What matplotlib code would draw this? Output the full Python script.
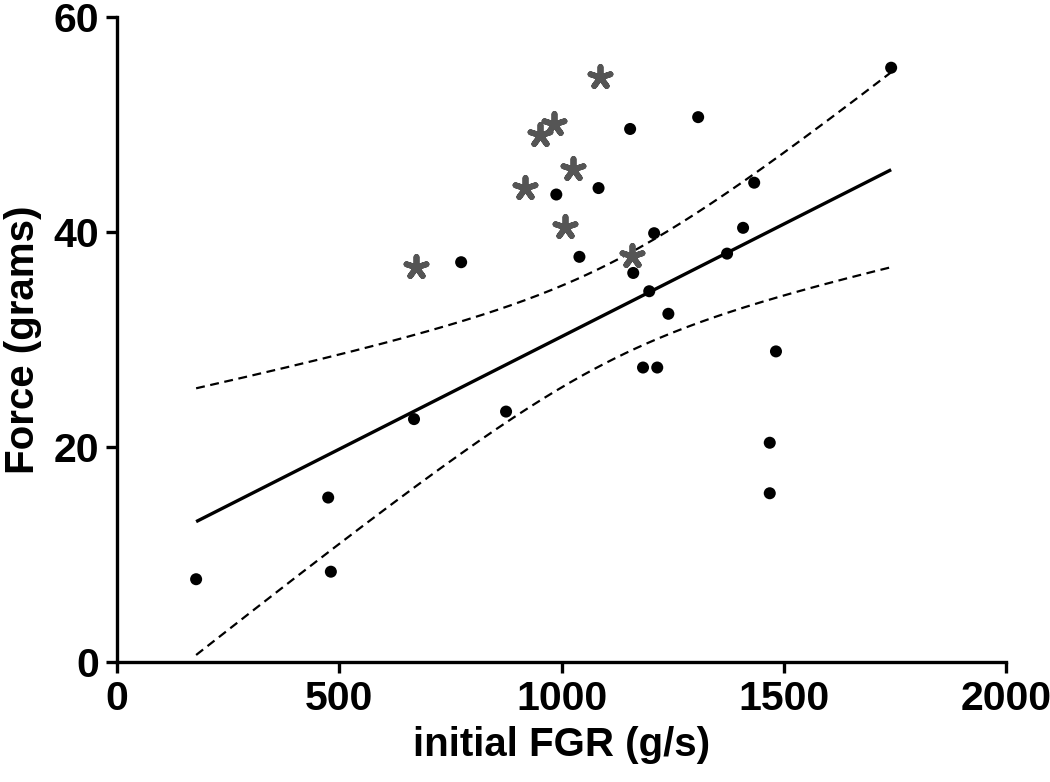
import numpy as np
import matplotlib
matplotlib.use("Agg")
import matplotlib.pyplot as plt

plt.rcParams['font.family'] = ['Liberation Sans', 'DejaVu Sans']
plt.rcParams['font.weight'] = 'bold'

# Filled circles (included in regression)
dot_x = [178, 475, 481, 668, 774, 875, 988, 1083, 1040, 1154, 1307, 1433,
         1208, 1408, 1161, 1372, 1197, 1240, 1482, 1183, 1215, 1468, 1468, 1741]
dot_y = [7.7, 15.3, 8.4, 22.6, 37.2, 23.3, 43.5, 44.1, 37.7, 49.6, 50.7, 44.6,
         39.9, 40.4, 36.2, 38.0, 34.5, 32.4, 28.9, 27.4, 27.4, 20.4, 15.7, 55.3]

# Asterisks (gray)
star_x = [673, 918, 952, 983, 1026, 1008, 1087, 1159]
star_y = [36.8, 44.1, 49.0, 50.1, 45.9, 40.5, 54.4, 37.8]

x_ticks = [0, 500, 1000, 1500, 2000]
y_ticks = [0, 20, 40, 60]

# linear regression with 95% confidence band
xd = np.array(dot_x, float)
yd = np.array(dot_y, float)
n = len(xd)
slope, intercept = np.polyfit(xd, yd, 1)
resid = yd - (slope * xd + intercept)
s = np.sqrt(np.sum(resid ** 2) / (n - 2))
sxx = np.sum((xd - xd.mean()) ** 2)
t_crit = 2.074  # df = 22
xf = np.linspace(xd.min(), xd.max(), 200)
yf = slope * xf + intercept
half = t_crit * s * np.sqrt(1 / n + (xf - xd.mean()) ** 2 / sxx)

fig = plt.figure(figsize=(10.5, 7.82), dpi=100)
ax = fig.add_axes([0.1114, 0.1535, 0.847, 0.8245])

ax.plot(xf, yf, color='black', lw=2.4, solid_capstyle='butt')
ax.plot(xf, yf + half, color='black', lw=1.6, ls=(0, (4, 2.5)))
ax.plot(xf, yf - half, color='black', lw=1.6, ls=(0, (4, 2.5)))

ax.scatter(dot_x, dot_y, s=75, color='black', zorder=3, edgecolors='none')
ax.scatter(star_x, star_y, s=230, marker=(5, 2, 0), color='#555555',
           linewidths=4.2, zorder=3)

ax.set_xlim(0, 2000)
ax.set_ylim(0, 60)
ax.set_xticks(x_ticks)
ax.set_yticks(y_ticks)
for sp in ['top', 'right']:
    ax.spines[sp].set_visible(False)
for sp in ['left', 'bottom']:
    ax.spines[sp].set_linewidth(2.4)
ax.tick_params(axis='both', direction='out', length=8, width=2.4,
               labelsize=29.5, pad=5)
for lab in ax.get_xticklabels() + ax.get_yticklabels():
    lab.set_fontweight('bold')
ax.set_xlabel('initial FGR (g/s)', fontsize=29, fontweight='bold', labelpad=6)
ax.set_ylabel('Force (grams)', fontsize=29, fontweight='bold', labelpad=8)

fig.savefig('out.png', dpi=100)
